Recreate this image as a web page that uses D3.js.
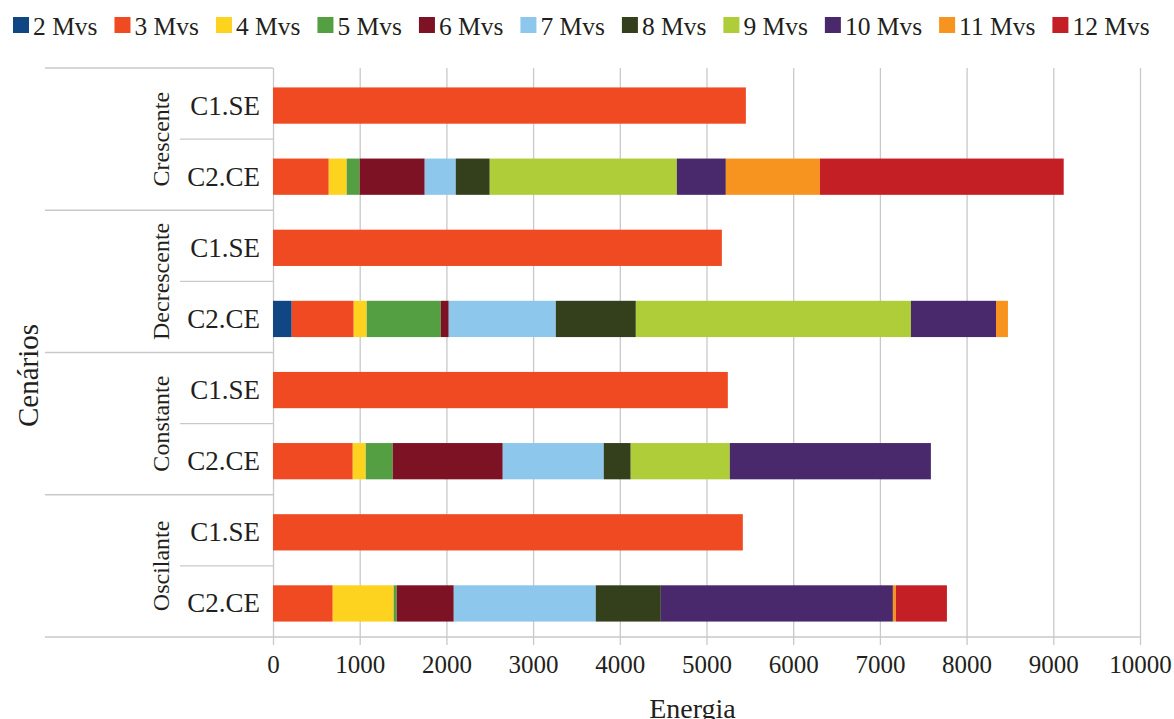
<!DOCTYPE html>
<html>
<head>
<meta charset="utf-8">
<script src="https://cdn.jsdelivr.net/npm/d3@7"></script>
<style>
  body { margin: 0; background: #fff; }
  svg text { font-family: "Liberation Serif", "Times New Roman", serif !important; fill: #231f20; }
</style>
</head>
<body>
<div id="chart"></div>
<script>
// rows, top to bottom
var groups = ['Crescente', 'Decrescente', 'Constante', 'Oscilante']
var cases = ['C1.SE', 'C2.CE']

var seriesNames = ['2 Mvs', '3 Mvs', '4 Mvs', '5 Mvs', '6 Mvs', '7 Mvs', '8 Mvs', '9 Mvs', '10 Mvs', '11 Mvs', '12 Mvs']
var seriesColors = ['#114685', '#f04a23', '#fdd31f', '#559f43', '#7e1225', '#8dc7eb', '#343f1b', '#aecd38', '#49296c', '#f7941f', '#c41f25']

// one value per row: Cres C1, Cres C2, Decr C1, Decr C2, Const C1, Const C2, Osc C1, Osc C2
var mvs2 = [0, 0, 0, 216, 0, 0, 0, 0]
var mvs3 = [5454, 643, 5177, 715, 5246, 920, 5419, 689]
var mvs4 = [0, 207, 0, 150, 0, 150, 0, 703]
var mvs5 = [0, 150, 0, 854, 0, 311, 0, 35]
var mvs6 = [0, 750, 0, 92, 0, 1269, 0, 658]
var mvs7 = [0, 358, 0, 1235, 0, 1165, 0, 1638]
var mvs8 = [0, 392, 0, 923, 0, 311, 0, 750]
var mvs9 = [0, 2158, 0, 3173, 0, 1143, 0, 0]
var mvs10 = [0, 565, 0, 981, 0, 2319, 0, 2677]
var mvs11 = [0, 1085, 0, 138, 0, 0, 0, 35]
var mvs12 = [0, 2812, 0, 0, 0, 0, 0, 588]

var xTicks = [0, 1000, 2000, 3000, 4000, 5000, 6000, 7000, 8000, 9000, 10000]

var seriesValues = [mvs2, mvs3, mvs4, mvs5, mvs6, mvs7, mvs8, mvs9, mvs10, mvs11, mvs12]

var width = 1174
var height = 719
var plotTop = 68
var plotBottom = 637
var plotLeft = 273
var plotRight = 1140

var svg = d3.select('#chart').append('svg')
    .attr('width', width)
    .attr('height', height)

// build row table
var rows = []
for (var g = 0; g < groups.length; g++) {
    for (var c = 0; c < cases.length; c++) {
        var row = { key: groups[g] + '|' + cases[c], group: groups[g], cat: cases[c] }
        var idx = g * cases.length + c
        for (var s = 0; s < seriesNames.length; s++) {
            row[seriesNames[s]] = seriesValues[s][idx]
        }
        rows.push(row)
    }
}

var x = d3.scaleLinear().domain([0, 10000]).range([plotLeft, plotRight])
var y = d3.scaleBand().domain(rows.map(function(d){ return d.key })).range([plotTop, plotBottom]).padding(0)
var barH = y.bandwidth() * 0.51

// gridlines + tick labels
var xAxis = d3.axisBottom(x)
    .tickValues(xTicks)
    .tickFormat(d3.format('d'))
    .tickSize(-(plotBottom + 8 - plotTop))
    .tickPadding(10)

var axisG = svg.append('g')
    .attr('transform', 'translate(0,' + (plotBottom + 8) + ')')
    .call(xAxis)
    .attr('font-family', null)
    .attr('font-size', null)
axisG.select('.domain').remove()
axisG.selectAll('.tick line').attr('stroke', '#c9c9cb').attr('stroke-width', 1.3)
axisG.selectAll('.tick text')
    .style('font-size', '25px')
    .attr('fill', '#231f20')

// category separators on the left
var groupLines = [plotTop]
var innerLines = []
rows.forEach(function(d, i){
    if (i % 2 === 0) innerLines.push(y(d.key) + y.bandwidth())
    else groupLines.push(y(d.key) + y.bandwidth())
})

svg.selectAll('line.grp')
    .data(groupLines)
    .enter()
    .append('line')
    .attr('class', 'grp')
    .attr('x1', 45)
    .attr('x2', function(d, i){ return i === groupLines.length - 1 ? plotRight : plotLeft })
    .attr('y1', function(d){ return d })
    .attr('y2', function(d){ return d })
    .attr('stroke', '#c9c9cb')
    .attr('stroke-width', 1.3)

svg.selectAll('line.inner')
    .data(innerLines)
    .enter()
    .append('line')
    .attr('class', 'inner')
    .attr('x1', 180)
    .attr('x2', plotLeft)
    .attr('y1', function(d){ return d })
    .attr('y2', function(d){ return d })
    .attr('stroke', '#c9c9cb')
    .attr('stroke-width', 1.3)

// stacked bars
var stack = d3.stack().keys(seriesNames)
var layers = stack(rows)

svg.selectAll('g.layer')
    .data(layers)
    .enter()
    .append('g')
    .attr('class', 'layer')
    .attr('fill', function(d, i){ return seriesColors[i] })
    .selectAll('rect')
    .data(function(d){ return d.filter(function(p){ return p[1] - p[0] > 0 }) })
    .enter()
    .append('rect')
    .attr('x', function(d){ return x(d[0]) })
    .attr('width', function(d){ return x(d[1]) - x(d[0]) })
    .attr('y', function(d){ return y(d.data.key) + (y.bandwidth() - barH) / 2 + 2 })
    .attr('height', barH)

// category labels
svg.selectAll('text.cat')
    .data(rows)
    .enter()
    .append('text')
    .attr('class', 'cat')
    .attr('x', 260)
    .attr('y', function(d){ return y(d.key) + y.bandwidth() / 2 + 2 })
    .attr('dominant-baseline', 'central')
    .attr('text-anchor', 'end')
    .attr('font-size', 27)
    .text(function(d){ return d.cat })

// group labels, rotated
svg.selectAll('text.grp')
    .data(groups)
    .enter()
    .append('text')
    .attr('class', 'grp')
    .attr('transform', function(d){
        var top = y(d + '|' + cases[0])
        var bottom = y(d + '|' + cases[cases.length - 1]) + y.bandwidth()
        return 'translate(161,' + ((top + bottom) / 2) + ') rotate(-90)'
    })
    .attr('text-anchor', 'middle')
    .attr('dominant-baseline', 'central')
    .attr('font-size', 24)
    .text(function(d){ return d })

// axis titles
svg.append('text')
    .attr('x', (plotLeft + plotRight) / 2 - 14)
    .attr('y', 708)
    .attr('text-anchor', 'middle')
    .attr('dominant-baseline', 'central')
    .attr('font-size', 28)
    .text('Energia')

svg.append('text')
    .attr('transform', 'translate(28,' + ((plotTop + plotBottom) / 2 + 23) + ') rotate(-90)')
    .attr('text-anchor', 'middle')
    .attr('dominant-baseline', 'central')
    .attr('font-size', 29)
    .text('Cenários')

// legend
var legend = svg.append('g').attr('class', 'legend')
var lx = 13
seriesNames.forEach(function(name, i){
    var item = legend.append('g').attr('transform', 'translate(' + lx + ',25)')
    item.append('rect')
        .attr('x', 0)
        .attr('y', -8)
        .attr('width', 16)
        .attr('height', 16)
        .attr('fill', seriesColors[i])
    var t = item.append('text')
        .attr('x', 20)
        .attr('y', 1)
        .attr('dominant-baseline', 'central')
        .attr('font-size', 25.5)
        .text(name)
    lx += 20 + t.node().getComputedTextLength() + 17
})
</script>
</body>
</html>
